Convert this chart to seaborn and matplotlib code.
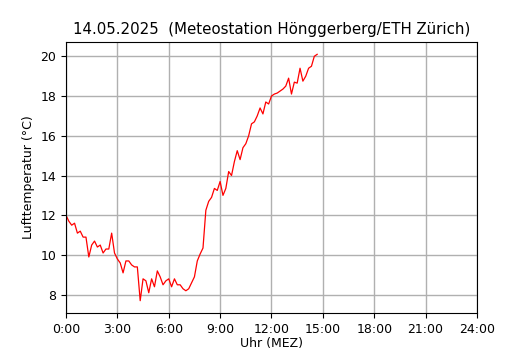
import matplotlib
matplotlib.use("Agg")
import matplotlib.pyplot as plt
import seaborn as sns
import pandas as pd

# Lufttemperatur in 10-Minuten-Schritten ab 0:00
temperatur = [
    12.0, 11.7, 11.5, 11.6, 11.1, 11.2, 10.9, 10.9, 9.9, 10.5,
    10.7, 10.4, 10.5, 10.1, 10.3, 10.3, 11.1, 10.1, 9.8, 9.6,
    9.1, 9.7, 9.7, 9.5, 9.4, 9.4, 7.7, 8.8, 8.7, 8.1,
    8.8, 8.4, 9.2, 8.9, 8.5, 8.7, 8.8, 8.4, 8.8, 8.5,
    8.5, 8.3, 8.2, 8.3, 8.6, 8.9, 9.7, 10.05, 10.35, 12.25,
    12.7, 12.9, 13.35, 13.25, 13.7, 13.0, 13.35, 14.2, 14.0, 14.7,
    15.25, 14.8, 15.4, 15.6, 16.0, 16.6, 16.7, 17.0, 17.4, 17.1,
    17.7, 17.6, 18.0, 18.1, 18.15, 18.25, 18.35, 18.5, 18.9, 18.1,
    18.7, 18.65, 19.4, 18.75, 19.0, 19.4, 19.5, 20.0, 20.1,
]
stunden = [i / 6 for i in range(len(temperatur))]

x_ticks = list(range(0, 25, 3))
x_labels = [f"{h}:00" for h in x_ticks]

df = pd.DataFrame({"stunde": stunden, "temp": temperatur})

fig = plt.figure(figsize=(5.3, 3.5), dpi=100)
ax = fig.add_axes([0.1245, 0.1057, 0.7755, 0.7743])
sns.lineplot(x="stunde", y="temp", data=df, color="red", linewidth=0.9, ax=ax)
ax.set_xlim(0, 24)
ax.set_xticks(x_ticks)
ax.set_xticklabels(x_labels)
ax.tick_params(labelsize=9)
ax.grid(True, color="#b0b0b0", linewidth=1.0)
ax.set_axisbelow(True)
ax.set_title("14.05.2025  (Meteostation Hönggerberg/ETH Zürich)", fontsize=10.8)
ax.set_xlabel("Uhr (MEZ)", fontsize=9, labelpad=1)
ax.set_ylabel("Lufttemperatur (°C)", fontsize=9)
fig.savefig("out.png", dpi=100)
